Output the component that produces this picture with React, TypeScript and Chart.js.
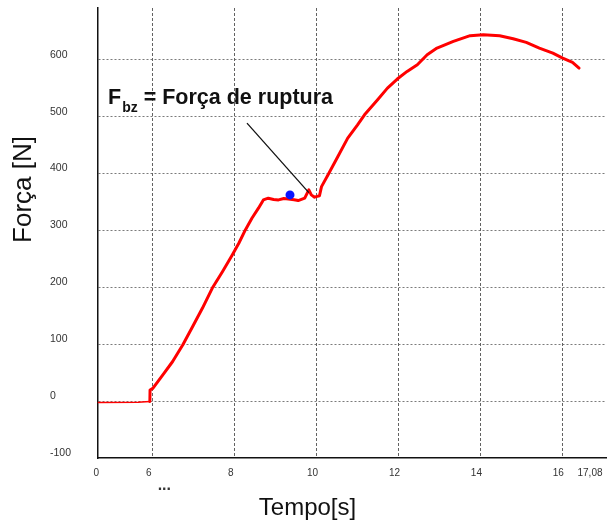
import React, { useEffect, useRef } from 'react';
import { Chart, registerables } from 'chart.js';

Chart.register(...registerables);

// ---- data (time in seconds, force in newtons) ----
const PRELOAD_TIME_S = [0, 4.4, 5.68];
const PRELOAD_FORCE_N = [-2.3, -2.0, -0.6];

const TIME_S = [
  5.68, 5.7, 6.0, 6.24, 6.48, 6.73, 6.97, 7.21, 7.45, 7.7, 7.94, 8.1, 8.26, 8.42, 8.58,
  8.7, 8.82, 8.95, 9.07, 9.2, 9.31, 9.45, 9.55, 9.71, 9.81, 9.87, 9.95, 9.99, 10.07,
  10.12, 10.28, 10.52, 10.76, 11.0, 11.17, 11.49, 11.73, 11.97, 12.21, 12.46, 12.7,
  12.94, 13.34, 13.75, 14.07, 14.47, 14.8, 15.12, 15.44, 15.77, 16.01, 16.25, 16.41,
];
const FORCE_N = [
  -0.6, 19.5, 22.3, 45.8, 69.2, 98.5, 130.7, 163.1, 198.3, 227.5, 256.9, 277.5, 300.9,
  321.5, 339.1, 353.7, 356.7, 354.5, 353.7, 356, 355.4, 354, 352.5, 356.7, 371.3, 362.5,
  358.5, 359.5, 361, 377, 398, 429.9, 462.3, 485.7, 503.3, 529.7, 550.2, 566.1, 579.5,
  591.2, 608.8, 620.6, 632.2, 642.3, 644, 642.3, 637, 630.5, 620.6, 611.8, 603, 595.3,
  585.4,
];

const RUPTURE_TIME_S = [9.35];
const RUPTURE_FORCE_N = [362.5];

// leader line of the annotation (time, force)
const LEADER_TIME_S = [8.3, 9.81];
const LEADER_FORCE_N = [488.6, 366.5];

const XTICK_TIMES = [0, 6, 8, 10, 12, 14, 16, 17.08];
const XTICK_LABELS = ['0', '6', '8', '10', '12', '14', '16', '17,08'];
const YTICK_VALUES = [-100, 0, 100, 200, 300, 400, 500, 600];

const X_TITLE = 'Tempo[s]';
const Y_TITLE = 'Força [N]';
const NOTE_MAIN = 'F';
const NOTE_SUB = 'bz';
const NOTE_REST = ' = Força de ruptura';
const BREAK_MARK = '...';

// broken time axis: 0–6 s is squeezed into a short segment
const X_AXIS_ZERO = 4.649;
const X_AXIS_MAX = 17.08;
function axisX(t: number): number {
  return t >= 6 ? t : X_AXIS_ZERO + (t * (6 - X_AXIS_ZERO)) / 6;
}

const FONT = "Arial, 'Liberation Sans', sans-serif";

const decorPlugin = {
  id: 'decor',
  afterDatasetsDraw(chart: any) {
    const { ctx, scales } = chart;
    const xs = scales.x;
    const ys = scales.y;
    ctx.save();
    ctx.strokeStyle = '#111';
    ctx.lineWidth = 1.3;
    ctx.beginPath();
    ctx.moveTo(xs.getPixelForValue(axisX(LEADER_TIME_S[0])), ys.getPixelForValue(LEADER_FORCE_N[0]));
    ctx.lineTo(xs.getPixelForValue(axisX(LEADER_TIME_S[1])), ys.getPixelForValue(LEADER_FORCE_N[1]));
    ctx.stroke();
    ctx.restore();
  },
  afterDraw(chart: any) {
    const { ctx, chartArea, scales } = chart;
    const xs = scales.x;
    ctx.save();
    ctx.fillStyle = '#111';

    // annotation label
    let x = chartArea.left + 10.5;
    const base = chartArea.top + 96;
    ctx.textAlign = 'left';
    ctx.textBaseline = 'alphabetic';
    ctx.font = `bold 21.5px ${FONT}`;
    ctx.fillText(NOTE_MAIN, x, base);
    x += ctx.measureText(NOTE_MAIN).width + 1;
    ctx.font = `bold 14px ${FONT}`;
    ctx.fillText(NOTE_SUB, x, base + 8);
    x += ctx.measureText(NOTE_SUB).width;
    ctx.font = `bold 21.5px ${FONT}`;
    ctx.fillText(NOTE_REST, x, base);

    // x title
    ctx.font = `24px ${FONT}`;
    ctx.textAlign = 'center';
    ctx.fillText(X_TITLE, 307.5, 515);

    // y title
    ctx.save();
    ctx.translate(30.5, 189.5);
    ctx.rotate(-Math.PI / 2);
    ctx.font = `26px ${FONT}`;
    ctx.textAlign = 'center';
    ctx.fillText(Y_TITLE, 0, 0);
    ctx.restore();

    // axis-break mark under the 6 s tick
    ctx.fillStyle = '#333';
    ctx.font = `bold 16px ${FONT}`;
    ctx.textAlign = 'center';
    ctx.fillText(BREAK_MARK, xs.getPixelForValue(axisX(6)) + 11.5, 490);
    ctx.restore();
  },
};

export default function App() {
  const ref = useRef<HTMLCanvasElement | null>(null);

  useEffect(() => {
    if (!ref.current) return;
    const transparent = 'rgba(0,0,0,0)';
    const chart = new Chart(ref.current, {
      type: 'line',
      data: {
        datasets: [
          {
            label: 'Fbz',
            data: RUPTURE_TIME_S.map((t, i) => ({ x: axisX(t), y: RUPTURE_FORCE_N[i] })),
            showLine: false,
            pointRadius: 4.5,
            pointBackgroundColor: '#0a14ff',
            pointBorderWidth: 0,
            borderColor: '#0a14ff',
          },
          {
            label: 'Força',
            data: TIME_S.map((t, i) => ({ x: axisX(t), y: FORCE_N[i] })),
            borderColor: '#ff0000',
            borderWidth: 3,
            borderJoinStyle: 'round',
            borderCapStyle: 'round',
            pointRadius: 0,
            tension: 0,
            fill: false,
          },
          {
            label: 'Pré-carga',
            data: PRELOAD_TIME_S.map((t, i) => ({ x: axisX(t), y: PRELOAD_FORCE_N[i] })),
            borderColor: '#ff0000',
            borderWidth: 1.5,
            pointRadius: 0,
            tension: 0,
            fill: false,
          },
        ],
      },
      options: {
        animation: false,
        responsive: false,
        events: [],
        layout: { padding: { left: 50, top: 8, right: 0, bottom: 0 } },
        plugins: {
          legend: { display: false },
          tooltip: { enabled: false },
          title: { display: false },
        },
        scales: {
          x: {
            type: 'linear',
            min: X_AXIS_ZERO,
            max: X_AXIS_MAX,
            afterBuildTicks: (s: any) => {
              s.ticks = XTICK_TIMES.map((t) => ({ value: axisX(t) }));
            },
            afterFit: (s: any) => {
              s.height = 64;
              s.paddingLeft = 0;
              s.paddingRight = 0;
            },
            grid: {
              color: (c: any) =>
                c.index === 0 || c.index === XTICK_TIMES.length - 1 ? transparent : 'rgba(70,70,70,0.85)',
              lineWidth: 1,
              drawTicks: false,
            },
            border: { display: true, color: '#111', width: 1.5, dash: [3, 2] },
            ticks: {
              autoSkip: false,
              maxRotation: 0,
              align: 'inner',
              padding: 9,
              labelOffset: -4,
              color: '#333',
              font: { family: FONT, size: 10 },
              callback: (_v: any, i: number) => XTICK_LABELS[i],
            },
          },
          y: {
            type: 'linear',
            min: -100,
            max: 691,
            afterBuildTicks: (s: any) => {
              s.ticks = YTICK_VALUES.map((v) => ({ value: v }));
            },
            afterFit: (s: any) => {
              s.width = 47.5;
              s.paddingTop = 0;
              s.paddingBottom = 0;
            },
            grid: {
              color: (c: any) => (c.index === 0 ? transparent : 'rgba(90,90,90,0.8)'),
              lineWidth: 1,
              drawTicks: false,
            },
            border: { display: true, color: '#111', width: 1.5, dash: [2, 2] },
            ticks: {
              crossAlign: 'far',
              labelOffset: -5,
              color: '#333',
              font: { family: FONT, size: 10.5 },
              callback: (v: any) => String(v),
            },
          },
        },
      },
      plugins: [decorPlugin],
    } as any);
    return () => chart.destroy();
  }, []);

  return (
    <div
      style={{
        position: 'fixed',
        left: 0,
        top: 0,
        width: 608,
        height: 522,
        overflow: 'hidden',
        background: '#fff',
      }}
    >
      <canvas ref={ref} width={611} height={522} style={{ display: 'block' }} />
    </div>
  );
}
